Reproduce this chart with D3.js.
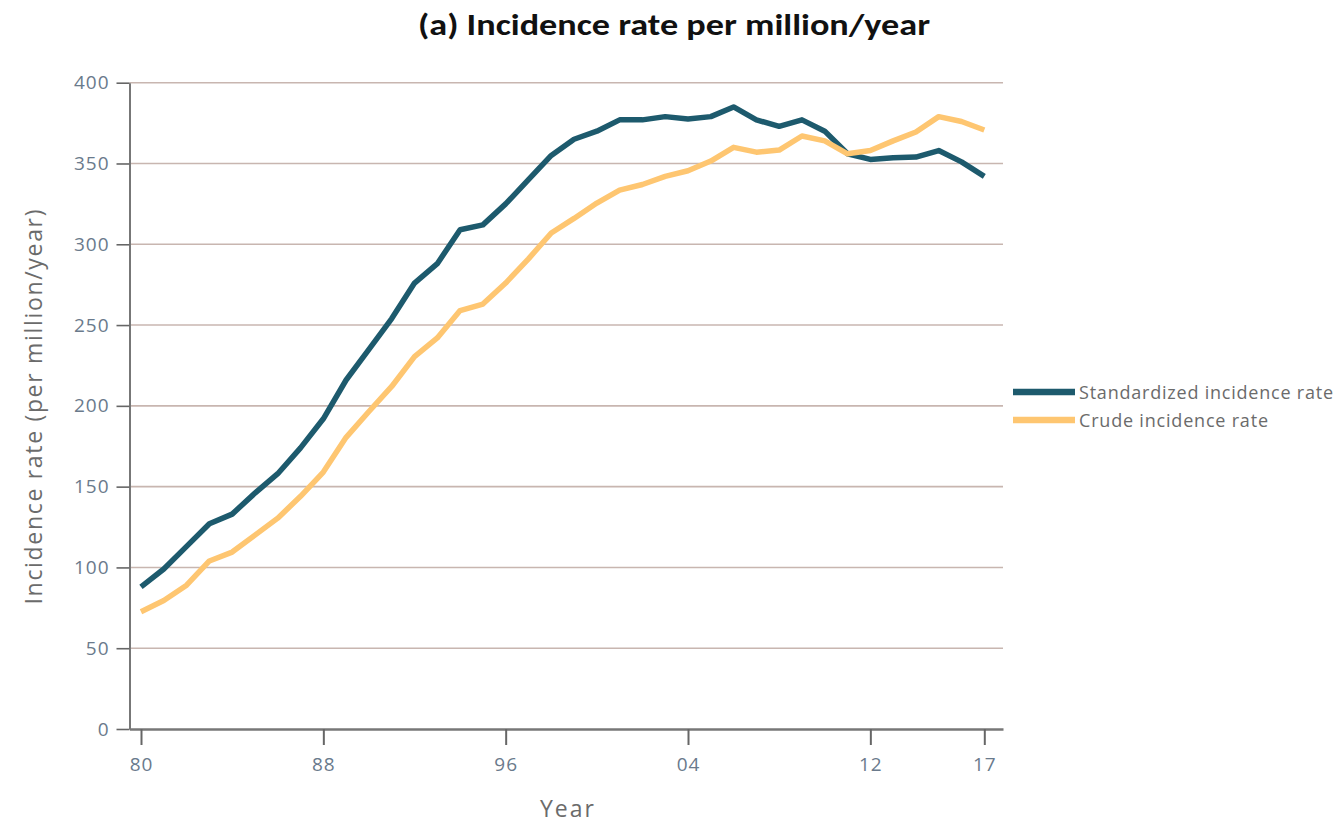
<!DOCTYPE html>
<html>
<head>
<meta charset="utf-8">
<script src="https://cdn.jsdelivr.net/npm/d3@7"></script>
<style>
  html, body { margin: 0; padding: 0; background: #fff; }
  svg { display: block; }
</style>
</head>
<body>
<svg id="chart" width="1336" height="823"></svg>
<script>
// Annual incidence rates per million, 1980–2017
const years = d3.range(1980, 2018);
const standardized = [
  88, 99, 113, 127, 133, 146, 158, 174, 192, 216,
  235, 254, 276, 288, 309, 312, 325, 340, 355, 365,
  370, 377, 377, 379, 377.5, 379, 385, 377, 373, 377,
  370, 356, 352.5, 353.5, 354, 358, 351, 342
];
const crude = [
  72.6, 79.5, 89, 104, 109.5, 120, 130.5, 144, 159, 180.5,
  196.5, 212, 230.5, 242, 259, 263, 276, 291, 307, 316,
  325.5, 333.5, 337, 342, 345.5, 351.5, 360, 357, 358.3, 367,
  364, 356, 358, 364, 369.5, 379, 376, 370.7
];
const yTicks = [0, 50, 100, 150, 200, 250, 300, 350, 400];
const xTicks = [1980, 1988, 1996, 2004, 2012, 2017];
const seriesNames = ["Standardized incidence rate", "Crude incidence rate"];
const seriesColors = ["#1d5a6d", "#fec671"];

const svg = d3.select("#chart");
const plotLeft = 129.5, plotRight = 1003, plotTop = 82.7, plotBottom = 729;
const pxPerYear = (984.3 - 141) / 37;

const x = d3.scaleLinear()
  .domain([1980 - (141 - plotLeft) / pxPerYear, 2017 + (plotRight - 984.3) / pxPerYear])
  .range([plotLeft, plotRight]);
const y = d3.scaleLinear().domain([0, 400]).range([plotBottom, plotTop]);

const labelFont = "'Open Sans', 'DejaVu Sans', sans-serif";
const tickColor = "#6a7a8c";

// Horizontal gridlines
svg.append("g")
  .selectAll("line")
  .data(yTicks.filter(d => d > 0))
  .join("line")
  .attr("x1", plotLeft).attr("x2", plotRight)
  .attr("y1", d => y(d)).attr("y2", d => y(d))
  .attr("stroke", "#c8b6b0")
  .attr("stroke-width", 1.6);

// Y axis
const yAxis = svg.append("g")
  .attr("transform", `translate(${plotLeft},0)`)
  .call(d3.axisLeft(y).tickValues(yTicks).tickSize(13).tickPadding(7).tickSizeOuter(0));
yAxis.select(".domain").attr("stroke", "#777").attr("stroke-width", 2);
yAxis.selectAll(".tick line").attr("stroke", "#666").attr("stroke-width", 1.6);
yAxis.selectAll(".tick text")
  .attr("fill", tickColor)
  .style("font-family", labelFont)
  .style("font-size", "19px")
  .style("letter-spacing", "1px");

// X axis
const xAxis = svg.append("g")
  .attr("transform", `translate(0,${plotBottom})`)
  .call(d3.axisBottom(x).tickValues(xTicks).tickSize(16).tickPadding(13).tickSizeOuter(0)
    .tickFormat(d => String(d).slice(2)));
xAxis.select(".domain").attr("stroke", "#777").attr("stroke-width", 2.5);
xAxis.selectAll(".tick line").attr("stroke", "#666").attr("stroke-width", 2);
xAxis.selectAll(".tick text")
  .attr("fill", tickColor)
  .style("font-family", labelFont)
  .style("font-size", "19px")
  .style("letter-spacing", "1px");

// Series lines
const line = d3.line().x((d, i) => x(years[i])).y(d => y(d));
[standardized, crude].forEach((vals, k) => {
  svg.append("path")
    .datum(vals)
    .attr("fill", "none")
    .attr("stroke", seriesColors[k])
    .attr("stroke-width", 5.5)
    .attr("stroke-linejoin", "round")
    .attr("d", line);
});

// Legend
const legendWidths = [254, 189];
const legend = svg.append("g").attr("transform", "translate(1013,392)");
seriesNames.forEach((name, k) => {
  const g = legend.append("g").attr("transform", `translate(0,${k * 28})`);
  g.append("line").attr("x1", 0).attr("x2", 62).attr("y1", 0).attr("y2", 0)
    .attr("stroke", seriesColors[k]).attr("stroke-width", 6.5);
  g.append("text").attr("x", 66).attr("y", 6.5)
    .attr("fill", "#6b6b6b")
    .attr("textLength", legendWidths[k])
    .attr("lengthAdjust", "spacing")
    .style("font-family", labelFont)
    .style("font-size", "18px")
    .text(name);
});

// Title
svg.append("text")
  .attr("x", 674).attr("y", 35)
  .attr("text-anchor", "middle")
  .attr("fill", "#111")
  .attr("textLength", 512)
  .attr("lengthAdjust", "spacingAndGlyphs")
  .style("font-family", "Carlito, 'Open Sans', sans-serif")
  .style("font-weight", "bold")
  .style("font-size", "31px")
  .text("(a) Incidence rate per million/year");

// Axis titles
svg.append("text")
  .attr("transform", "translate(42,407) rotate(-90)")
  .attr("text-anchor", "middle")
  .attr("fill", "#6b6b6b")
  .attr("textLength", 395)
  .attr("lengthAdjust", "spacing")
  .style("font-family", labelFont)
  .style("font-size", "23px")
  .text("Incidence rate (per million/year)");

svg.append("text")
  .attr("x", 567).attr("y", 817)
  .attr("text-anchor", "middle")
  .attr("fill", "#6b6b6b")
  .attr("textLength", 54)
  .attr("lengthAdjust", "spacing")
  .style("font-family", labelFont)
  .style("font-size", "23px")
  .text("Year");
</script>
</body>
</html>
